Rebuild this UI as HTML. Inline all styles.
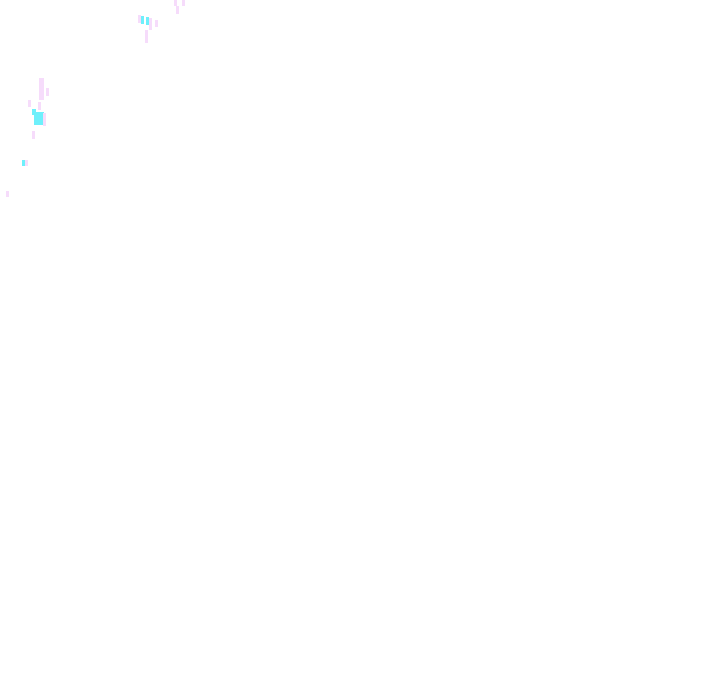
<!DOCTYPE html>
<html><head><meta charset="utf-8"><style>
html,body{margin:0;padding:0;background:#fff;width:720px;height:692px;overflow:hidden;position:relative}
i{position:absolute;display:block}
.p{background:#f6dcfb}
.c{background:#6ef0fb}
</style></head><body>
<i class="p" style="left:174px;top:0;width:3px;height:6px"></i>
<i class="p" style="left:182px;top:0;width:3px;height:6px"></i>
<i class="p" style="left:176px;top:6px;width:3px;height:8px"></i>
<i class="p" style="left:138px;top:15px;width:3px;height:8px"></i>
<i class="c" style="left:141px;top:16px;width:3px;height:8px"></i>
<i class="c" style="left:146px;top:17px;width:3px;height:8px"></i>
<i class="p" style="left:149px;top:18px;width:3px;height:12px"></i>
<i class="p" style="left:155px;top:20px;width:3px;height:7px"></i>
<i class="p" style="left:145px;top:30px;width:3px;height:13px"></i>
<i class="p" style="left:39px;top:78px;width:5px;height:22px"></i>
<i class="p" style="left:46px;top:88px;width:3px;height:8px"></i>
<i class="p" style="left:28px;top:100px;width:3px;height:7px"></i>
<i class="p" style="left:38px;top:102px;width:3px;height:8px"></i>
<i class="c" style="left:32px;top:109px;width:4px;height:6px"></i>
<i class="c" style="left:34px;top:112px;width:10px;height:13px"></i>
<i class="p" style="left:43px;top:113px;width:3px;height:13px"></i>
<i class="p" style="left:32px;top:131px;width:3px;height:8px"></i>
<i class="c" style="left:22px;top:160px;width:3px;height:6px"></i>
<i class="p" style="left:25px;top:160px;width:3px;height:6px"></i>
<i class="p" style="left:6px;top:191px;width:3px;height:6px"></i>
</body></html>
